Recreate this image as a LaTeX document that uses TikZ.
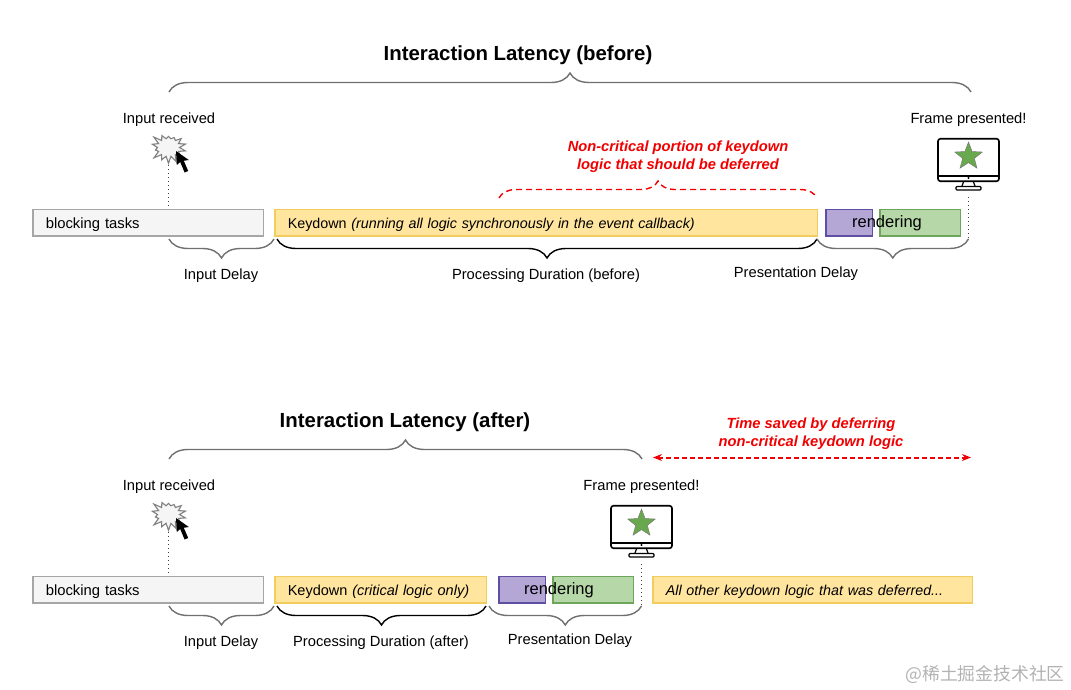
\documentclass[tikz,border=0pt]{standalone}
\usepackage{fontspec}
\setmainfont{Liberation Sans}
\newfontfamily\cjkfont{Noto Sans CJK SC}
\usepackage{xcolor}
\usetikzlibrary{shapes.geometric,shapes.symbols,decorations.pathreplacing,arrows.meta}
\definecolor{greyfill}{HTML}{F5F5F5}
\definecolor{greyline}{HTML}{A6A6A6}
\definecolor{bracegrey}{HTML}{707070}
\definecolor{keyfill}{HTML}{FFE59E}
\definecolor{keyline}{HTML}{F2CC5F}
\definecolor{purplefill}{HTML}{B4A7D6}
\definecolor{purpleline}{HTML}{5E4FA2}
\definecolor{greenfill}{HTML}{B6D7A8}
\definecolor{greenline}{HTML}{6DA55A}
\definecolor{starfill}{HTML}{6AA84F}
\definecolor{redtext}{HTML}{F00000}
\tikzset{
    monitor/.pic={
        \node[draw=black, line width=1.6pt, rounded corners=2.5pt, minimum width=61pt, minimum height=42.5pt, inner sep=0pt] (-screen) at (0,0) {};
        \draw[line width=1.3pt] (-screen.west |- 0,16) -- (-screen.east |- 0,16);
        \fill (0,18) circle (1.1pt);
        \draw[line width=1.2pt] (-5,22) -- (-6.5,26) (5,22) -- (6.5,26);
        \draw[line width=1.3pt, rounded corners=1pt] (-12.5,26.5) rectangle (12.5,30);
        \node[star, star points=5, star point ratio=2.35, draw=black!55, fill=starfill, minimum size=29pt, inner sep=0pt] at (0,-3.5) {};
    },
    pointer/.pic={
        \fill (0,0) -- (0.8,14) -- (4.2,11) -- (8.6,21.5) -- (12.2,20) -- (7.8,9.8) -- (12.8,9) -- cycle;
    }
}
\begin{document}
\begin{tikzpicture}[x=1pt, y=-1pt,
        bar/.style={draw, line width=1.6pt, minimum height=26.5pt, text height=13pt, text depth=2pt, inner xsep=13pt, inner ysep=0pt, anchor=north west, align=left, font=\fontsize{14.3}{16}\selectfont},
        blocking/.style={bar, draw=greyline, fill=greyfill, text width=204.5pt, font=\fontsize{14.8}{16}\selectfont},
        keydown/.style={bar, draw=keyline, fill=keyfill},
        purplebar/.style={bar, draw=purpleline, fill=purplefill, inner xsep=0pt, minimum width=46.5pt},
        greenbar/.style={bar, draw=greenline, fill=greenfill, inner xsep=0pt, minimum width=80.5pt},
        label/.style={font=\fontsize{14.7}{16}\selectfont, inner sep=0pt},
        heading/.style={font=\fontsize{20.4}{24}\selectfont\bfseries, inner sep=0pt},
        note/.style={font=\fontsize{14.7}{17.5}\selectfont\bfseries\itshape, text=redtext, align=center, inner sep=0pt},
        rendertext/.style={font=\fontsize{16.5}{18}\selectfont, inner sep=0pt},
        burst/.style={starburst, starburst points=14, starburst point height=8pt, random starburst=23, draw=black!50, line width=1.1pt, fill=greyfill, minimum width=38pt, minimum height=34pt, inner sep=0pt},
        curly/.style={decorate, decoration={brace, amplitude=#1}, draw=bracegrey, line width=1.4pt},
        curly/.default=19pt,
        curlydown/.style={decorate, decoration={brace, mirror, amplitude=19pt}, draw=bracegrey, line width=1.4pt},
        dots/.style={dash pattern=on 1pt off 3pt, line width=1pt, black!75}
    ]
        \useasboundingbox (0,0) rectangle (1071,690);

        % Before
        \node[heading] (titleA) at (518,55.5) {Interaction Latency (before)};
        \coordinate (topAl) at (169,92);
        \coordinate (topAr) at (971,92);
        \draw[curly] (topAl) -- (topAr);

        \node[label] (inputA) at (169,120) {Input received};
        \node[burst] (burstA) at (168.5,147.5) {};
        \pic at (176,151) {pointer};
        \node[label] (frameA) at (968.5,120) {Frame presented!};
        \pic (monA) at (968.5,160) {monitor};

        \node[note] (noteA) at (678,156.5) {Non-critical portion of keydown\\logic that should be deferred};
        \coordinate (deferAl) at (499,198);
        \coordinate (deferAr) at (817,198);
        \draw[curly=17pt, dash pattern=on 6pt off 4pt, draw=redtext] (deferAl) -- (deferAr);

        \node[blocking] (blockA) at (32,208.5) {blocking tasks};
        \node[keydown, text width=516.5pt] (keyA) at (274,208.5) {Keydown \textit{(running all logic synchronously in the event callback)}};
        \node[purplebar] (purpleA) at (825,208.5) {};
        \node[greenbar] (greenA) at (879,208.5) {};
        \node[rendertext] (renderA) at (887,223) {rendering};

        \draw[dots] (burstA.south) -- (burstA.south |- blockA.north);
        \coordinate (frameAb) at (968.5,239);
        \draw[dots] (monA-screen.south |- 0,197) -- (frameAb);

        \coordinate (a1) at (169,239);
        \coordinate (a2) at (274,239);
        \coordinate (a3) at (277,239);
        \coordinate (a4) at (817,239);
        \draw[curlydown] (a1) -- (a2);
        \draw[curlydown, draw=black] (a3) -- (a4);
        \draw[curlydown] (a4) -- (frameAb);
        \node[label] (delayA) at (221,276) {Input Delay};
        \node[label] (procA) at (546,276) {Processing Duration (before)};
        \node[label] (presA) at (796,274) {Presentation Delay};

        % After
        \node[heading] (titleB) at (405,422.5) {Interaction Latency (after)};
        \coordinate (topBl) at (169,459);
        \coordinate (topBr) at (642,459);
        \draw[curly] (topBl) -- (topBr);

        \node[note] (noteB) at (811,433.5) {Time saved by deferring\\non-critical keydown logic};
        \coordinate (savedl) at (653,457.5);
        \coordinate (savedr) at (971,457.5);
        \draw[{Stealth[length=9pt,width=7pt]}-{Stealth[length=9pt,width=7pt]}, dash pattern=on 5pt off 3pt, color=redtext, line width=2pt] (savedl) -- (savedr);

        \node[label] (inputB) at (169,487) {Input received};
        \node[burst] (burstB) at (168.5,514.5) {};
        \pic at (176,518) {pointer};
        \node[label] (frameB) at (641.5,487) {Frame presented!};
        \pic (monB) at (641.5,527) {monitor};

        \node[blocking] (blockB) at (32,575.5) {blocking tasks};
        \node[keydown, text width=185.5pt, font=\fontsize{14.5}{16}\selectfont] (keyB) at (274,575.5) {Keydown \textit{(critical logic only)}};
        \node[purplebar] (purpleB) at (498,575.5) {};
        \node[greenbar] (greenB) at (552,575.5) {};
        \node[rendertext] (renderB) at (559,590) {rendering};
        \node[keydown, text width=293.5pt] (restB) at (652,575.5) {\textit{All other keydown logic that was deferred...}};

        \draw[dots] (burstB.south) -- (burstB.south |- blockB.north);
        \coordinate (frameBb) at (641.5,606);
        \draw[dots] (monB-screen.south |- 0,564) -- (frameBb);

        \coordinate (b1) at (169,606);
        \coordinate (b2) at (274,606);
        \coordinate (b3) at (277,606);
        \coordinate (b4) at (486,606);
        \coordinate (b5) at (489,606);
        \draw[curlydown] (b1) -- (b2);
        \draw[curlydown, draw=black] (b3) -- (b4);
        \draw[curlydown] (b5) -- (frameBb);
        \node[label] (delayB) at (221,643) {Input Delay};
        \node[label] (procB) at (381,643) {Processing Duration (after)};
        \node[label] (presB) at (570,641) {Presentation Delay};

        \node[inner sep=0pt, text=black!30, font=\fontsize{17.8}{20}\cjkfont] (mark) at (985,674) {@稀土掘金技术社区};
    \end{tikzpicture}
\end{document}
